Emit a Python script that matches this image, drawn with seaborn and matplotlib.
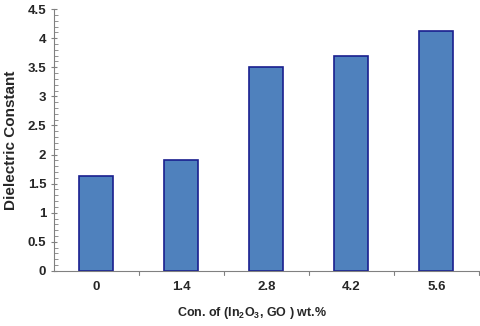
import matplotlib
matplotlib.use("Agg")
import matplotlib.pyplot as plt
import seaborn as sns
import pandas as pd
from matplotlib.ticker import MultipleLocator

categories = ["0", "1.4", "2.8", "4.2", "5.6"]
values = [1.63, 1.90, 3.50, 3.70, 4.13]

sns.set_style("white")
fam = ['Liberation Sans', 'DejaVu Sans']
plt.rcParams['font.family'] = fam
plt.rcParams['mathtext.fontset'] = 'custom'
plt.rcParams['mathtext.rm'] = 'Liberation Sans:bold'
plt.rcParams['mathtext.it'] = 'Liberation Sans:bold'
plt.rcParams['mathtext.bf'] = 'Liberation Sans:bold'

df = pd.DataFrame({"cat": categories, "val": values})
fig = plt.figure(figsize=(4.8, 3.26), dpi=100)
ax = fig.add_axes([0.1125, 0.169, 0.885, 0.803])
sns.barplot(data=df, x="cat", y="val", ax=ax, color="#4F81BD", width=0.4,
            edgecolor="#1A1F8F", linewidth=1.2, saturation=1)

ax.set_ylim(0, 4.5)
ax.set_xlim(-0.5, 4.5)
ax.yaxis.set_minor_locator(MultipleLocator(0.1))
ax.set_yticks([0, 0.5, 1, 1.5, 2, 2.5, 3, 3.5, 4, 4.5])
ax.set_yticklabels(["0", "0.5", "1", "1.5", "2", "2.5", "3", "3.5", "4", "4.5"],
                   fontweight="bold", fontsize=9.5)
ax.tick_params(axis='y', which='major', direction='inout', length=5, width=0.8, color="#808080", left=True, pad=3)
ax.tick_params(axis='y', which='minor', direction='in', length=3, width=0.6, color="#808080", left=True)

ax.set_xticks(range(len(categories)))
ax.set_xticklabels(categories, fontweight="bold", fontsize=9.5)
ax.tick_params(axis='x', which='major', length=0, pad=7)
for b in [0.5, 1.5, 2.5, 3.5, 4.5]:
    ax.plot([b, b], [0, -0.07], color="#808080", lw=0.8, clip_on=False)

for s in ["top", "right"]:
    ax.spines[s].set_visible(False)
for s in ["left", "bottom"]:
    ax.spines[s].set_color("#808080")
    ax.spines[s].set_linewidth(0.8)

ax.set_ylabel("Dielectric Constant", fontweight="bold", fontsize=11, labelpad=7)
ax.set_xlabel("Con. of (In$_2$O$_3$, GO ) wt.%", fontweight="bold", fontsize=9, labelpad=6)
ax.xaxis.set_label_coords(0.466, -0.13)
ax.grid(False)

fig.savefig("out.png", dpi=100)
